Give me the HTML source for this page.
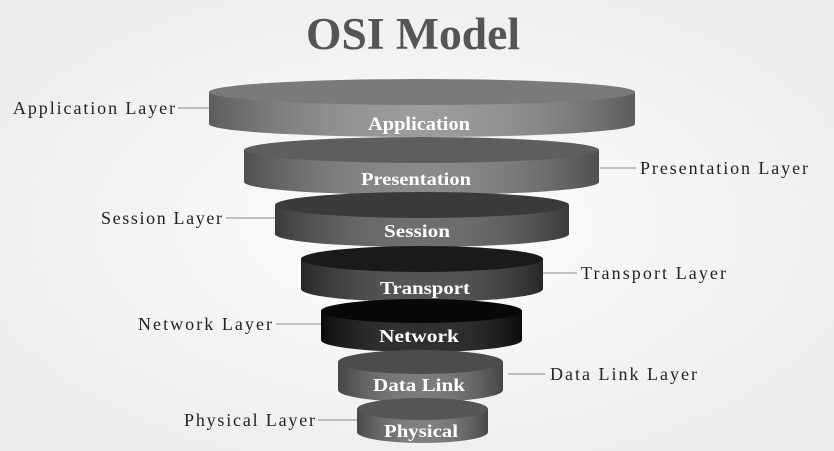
<!DOCTYPE html>
<html><head><style>
body{margin:0;background:#fff;}
svg{display:block;}
</style></head><body>
<svg width="834" height="451" viewBox="0 0 834 451" xmlns="http://www.w3.org/2000/svg">
<defs>
<radialGradient id="bg" cx="50%" cy="50%" r="60%"><stop offset="0" stop-color="#fdfdfd"/><stop offset="1" stop-color="#ededed"/></radialGradient>
<linearGradient id="side" x1="0" x2="1"><stop offset="0" stop-color="#000" stop-opacity=".35"/><stop offset=".5" stop-color="#fff" stop-opacity=".12"/><stop offset="1" stop-color="#000" stop-opacity=".35"/></linearGradient>
</defs>
<rect width="834" height="451" fill="url(#bg)"/>
<text x="413" y="49" text-anchor="middle" font-family="Liberation Serif,serif" font-weight="bold" font-size="45" fill="#555" textLength="214" lengthAdjust="spacingAndGlyphs">OSI Model</text>
<g font-family="Liberation Serif,serif" font-weight="bold" fill="#fff" text-anchor="middle">
<g>
<path d="M209 92 L209 124 A213 13 0 0 0 635 124 L635 92 Z" fill="#8e8e8e"/><path d="M209 92 L209 124 A213 13 0 0 0 635 124 L635 92 Z" fill="url(#side)"/>
<ellipse cx="422" cy="92" rx="213" ry="13" fill="#7a7a7a"/>
<text x="419" y="130" font-size="19" textLength="102" lengthAdjust="spacingAndGlyphs">Application</text>
</g>
<g>
<path d="M244 150 L244 182 A177.5 13 0 0 0 599 182 L599 150 Z" fill="#7a7a7a"/><path d="M244 150 L244 182 A177.5 13 0 0 0 599 182 L599 150 Z" fill="url(#side)"/>
<ellipse cx="421.5" cy="150" rx="177.5" ry="13" fill="#5e5e5e"/>
<text x="416" y="185" font-size="18" textLength="110" lengthAdjust="spacingAndGlyphs">Presentation</text>
</g>
<g>
<path d="M275 205 L275 234 A147 13 0 0 0 569 234 L569 205 Z" fill="#5a5a5a"/><path d="M275 205 L275 234 A147 13 0 0 0 569 234 L569 205 Z" fill="url(#side)"/>
<ellipse cx="422" cy="205" rx="147" ry="13" fill="#3a3a3a"/>
<text x="417" y="237" font-size="18" textLength="66" lengthAdjust="spacingAndGlyphs">Session</text>
</g>
<g>
<path d="M301 259 L301 289 A121 13 0 0 0 543 289 L543 259 Z" fill="#3c3c3c"/><path d="M301 259 L301 289 A121 13 0 0 0 543 289 L543 259 Z" fill="url(#side)"/>
<ellipse cx="422" cy="259" rx="121" ry="13" fill="#1a1a1a"/>
<text x="425" y="294" font-size="18" textLength="90" lengthAdjust="spacingAndGlyphs">Transport</text>
</g>
<g>
<path d="M321 311 L321 340 A100.5 12 0 0 0 522 340 L522 311 Z" fill="#111"/><path d="M321 311 L321 340 A100.5 12 0 0 0 522 340 L522 311 Z" fill="url(#side)"/>
<ellipse cx="421.5" cy="311" rx="100.5" ry="12" fill="#080808"/>
<text x="419" y="342" font-size="18" textLength="80" lengthAdjust="spacingAndGlyphs">Network</text>
</g>
<g>
<path d="M338 362 L338 390 A82.5 12 0 0 0 503 390 L503 362 Z" fill="#6a6a6a"/><path d="M338 362 L338 390 A82.5 12 0 0 0 503 390 L503 362 Z" fill="url(#side)"/>
<ellipse cx="420.5" cy="362" rx="82.5" ry="12" fill="#4c4c4c"/>
<text x="419" y="391" font-size="18" textLength="92" lengthAdjust="spacingAndGlyphs">Data Link</text>
</g>
<g>
<path d="M357 409 L357 432 A65.5 11 0 0 0 488 432 L488 409 Z" fill="#6e6e6e"/><path d="M357 409 L357 432 A65.5 11 0 0 0 488 432 L488 409 Z" fill="url(#side)"/>
<ellipse cx="422.5" cy="409" rx="65.5" ry="11" fill="#555"/>
<text x="421" y="437" font-size="18" textLength="74" lengthAdjust="spacingAndGlyphs">Physical</text>
</g>
</g>
<g stroke="#888" stroke-width="1">
<line x1="178" y1="108" x2="209" y2="108"/>
<line x1="600" y1="168" x2="636" y2="168"/>
<line x1="226" y1="218" x2="275" y2="218"/>
<line x1="543" y1="273" x2="577" y2="273"/>
<line x1="276" y1="324" x2="321" y2="324"/>
<line x1="508" y1="374" x2="545" y2="374"/>
<line x1="318" y1="420" x2="357" y2="420"/>
</g>
<g font-family="Liberation Serif,serif" font-size="18" fill="#222" lengthAdjust="spacing">
<text x="13" y="114" textLength="162">Application Layer</text>
<text x="640" y="174" textLength="168">Presentation Layer</text>
<text x="101" y="224" textLength="121">Session Layer</text>
<text x="581" y="279" textLength="145">Transport Layer</text>
<text x="138" y="330" textLength="134">Network Layer</text>
<text x="550" y="380" textLength="147">Data Link Layer</text>
<text x="184" y="426" textLength="131">Physical Layer</text>
</g>
</svg>
</body></html>
